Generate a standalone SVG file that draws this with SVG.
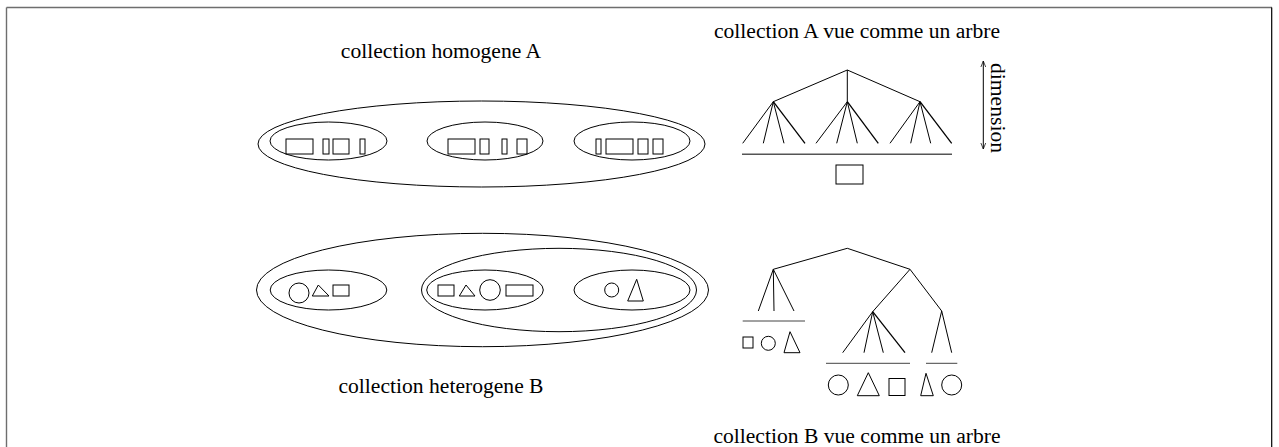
<svg xmlns="http://www.w3.org/2000/svg" width="1279" height="447" viewBox="0 0 1279 447">
<defs>
<style>
.s{fill:none;stroke:#000;stroke-width:1}
.t{font-family:"Liberation Serif","Times New Roman",serif;font-size:21.6px;fill:#000}
.e{stroke-width:1.3}
</style>
<marker id="ah" viewBox="0 0 10 10" refX="10" refY="5" markerWidth="6" markerHeight="8" orient="auto-start-reverse" markerUnits="userSpaceOnUse">
<path d="M0,1 L10,5 L0,9" fill="none" stroke="#000" stroke-width="1.2"/>
</marker>
</defs>
<rect width="1279" height="447" fill="#fff"/>
<g id="frame">
<line x1="6.5" y1="7.5" x2="1272" y2="7.5" stroke="#6e6e6e" stroke-width="1.4"/>
<line x1="6.5" y1="7.5" x2="6.5" y2="447" stroke="#6e6e6e" stroke-width="1.4"/>
<line x1="1271.7" y1="7.5" x2="1271.7" y2="447" stroke="#000" stroke-width="1.2"/>
</g>
<g id="labels">
<text class="t" x="441" y="58" text-anchor="middle">collection homogene A</text>
<text class="t" x="857" y="38" text-anchor="middle">collection A vue comme un arbre</text>
<text class="t" x="441" y="393" text-anchor="middle">collection heterogene B</text>
<text class="t" x="857" y="443" text-anchor="middle">collection B vue comme un arbre</text>
<text class="t" transform="translate(991,63) rotate(90)">dimension</text>
</g>
<g id="collectionA" class="s">
<ellipse cx="481.5" cy="144" rx="223.5" ry="43"/>
<g id="A1">
<ellipse cx="328.5" cy="141" rx="58.5" ry="19"/>
<rect x="286" y="139" width="27" height="15"/>
<rect x="323" y="139" width="6" height="15"/>
<rect x="333" y="139" width="16" height="15"/>
<rect x="360" y="139" width="5" height="15"/>
</g>
<g id="A2">
<ellipse cx="485" cy="141" rx="58" ry="19"/>
<rect x="448" y="139" width="27" height="15"/>
<rect x="480" y="139" width="9" height="15"/>
<rect x="502" y="139" width="5" height="15"/>
<rect x="517" y="139" width="10" height="15"/>
</g>
<g id="A3">
<ellipse cx="632" cy="141" rx="58" ry="19"/>
<rect x="596" y="139" width="5" height="15"/>
<rect x="606" y="139" width="27" height="15"/>
<rect x="638" y="139" width="10" height="15"/>
<rect x="653" y="139" width="10" height="15"/>
</g>
</g>
<g id="collectionB" class="s">
<ellipse cx="482.5" cy="290" rx="226" ry="56.7"/>
<ellipse cx="559" cy="290" rx="137.5" ry="41.7"/>
<g id="B1">
<ellipse cx="328.5" cy="290" rx="58.3" ry="20"/>
<circle cx="299" cy="293" r="10"/>
<path d="M318.3,285 L312.3,296 L329,296 Z"/>
<rect x="333" y="285" width="16" height="11"/>
</g>
<g id="B2">
<ellipse cx="485" cy="290" rx="58.3" ry="20"/>
<rect x="438" y="285" width="16" height="11"/>
<path d="M466,285 L459.3,296 L475,296 Z"/>
<circle cx="490" cy="290" r="10.3"/>
<rect x="506" y="285" width="27" height="11"/>
</g>
<g id="B3">
<ellipse cx="632" cy="290" rx="58" ry="20"/>
<circle cx="611.7" cy="290" r="7"/>
<path d="M636.7,279.3 L627.7,301 L643.3,301 Z"/>
</g>
</g>
<g id="treeA" class="s">
<path d="M847.3,70 L773.3,101.7 M847.3,70 L847.3,101.7 M847.3,70 L920,101.7"/>
<path d="M773.3,101.7 L742.7,143.3 M773.3,101.7 L763.3,143.3 M773.3,101.7 L784,143.3"/>
<path class="e" d="M773.3,101.7 L805,143.3"/>
<path d="M847.3,101.7 L816,143.3 M847.3,101.7 L836.7,143.3 M847.3,101.7 L857.3,143.3"/>
<path class="e" d="M847.3,101.7 L878.3,143.3"/>
<path d="M920,101.7 L890,143.3 M920,101.7 L910.7,143.3 M920,101.7 L930.7,143.3"/>
<path class="e" d="M920,101.7 L951.7,143.3"/>
<line x1="742" y1="154.3" x2="952" y2="154.3" stroke="#555" stroke-width="1.4"/>
<rect x="836" y="165" width="27" height="19"/>
<line x1="983.3" y1="61" x2="983.3" y2="149" marker-start="url(#ah)" marker-end="url(#ah)"/>
</g>
<g id="treeB" class="s">
<path d="M847.3,248.3 L773.3,269.3 M847.3,248.3 L910,269.3"/>
<path d="M773.3,269.3 L758.3,311 M773.3,269.3 L774,311 M773.3,269.3 L794,311"/>
<line x1="742.7" y1="321" x2="805" y2="321" stroke="#444"/>
<rect x="743" y="337" width="10" height="11"/>
<circle cx="768.3" cy="343.3" r="7"/>
<path d="M790,331.7 L784,352.7 L800,352.7 Z"/>
<path d="M910,269.3 L872.7,311.7 M910,269.3 L941.7,311"/>
<path d="M872.7,311.7 L842.7,352.7 M872.7,311.7 L864,352.7 M872.7,311.7 L883.3,352.7"/>
<path class="e" d="M872.7,311.7 L905,352.7"/>
<path d="M941.7,311 L931.7,352.7 M941.7,311 L951.7,352.7"/>
<line x1="826" y1="363.3" x2="910" y2="363.3" stroke="#444"/>
<line x1="926" y1="363.3" x2="957.3" y2="363.3" stroke="#444"/>
<circle cx="838.3" cy="385" r="10"/>
<path d="M868.3,372.7 L857.3,395.7 L879.3,395.7 Z"/>
<rect x="889" y="378.5" width="16" height="17"/>
<path d="M926,373.3 L920.7,395.7 L933.3,395.7 Z"/>
<circle cx="951.7" cy="385" r="10"/>
</g>
</svg>
